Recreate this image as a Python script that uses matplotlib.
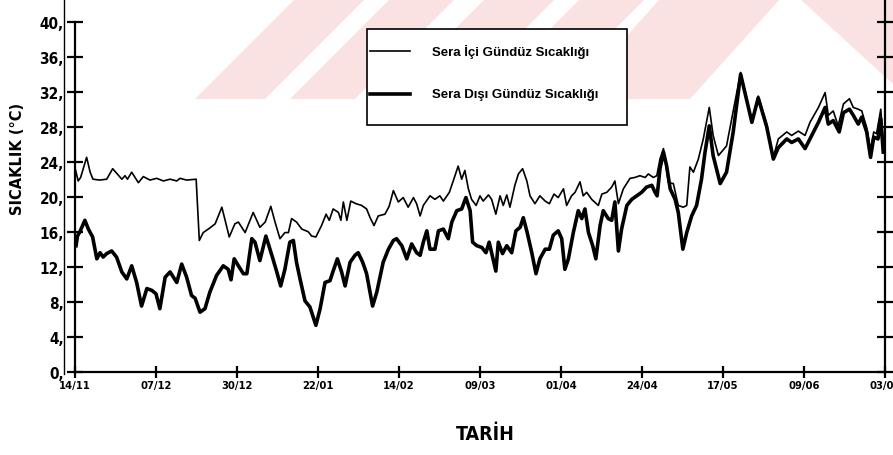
import matplotlib.pyplot as plt
from matplotlib.lines import Line2D
from matplotlib.patches import Polygon, Rectangle

plt.rcParams['font.family'] = ['DejaVu Sans']

# gün (14/11'den itibaren) ve sıcaklık değerleri
gun_ic = [0.0, 0.9, 1.6, 3.3, 4.3, 5.1, 7.0, 9.0, 10.7, 12.0, 13.3, 14.2, 14.9, 16.1, 18.0, 19.4,
          21.3, 23.2, 25.1, 27.0, 28.9, 29.8, 31.7, 34.4, 35.3, 36.4, 38.2, 39.8, 41.7, 43.8, 45.4,
          46.4, 48.3, 50.6, 52.5, 54.0, 55.6, 56.8, 58.2, 59.6, 60.6, 61.5, 62.9, 64.4, 66.2, 67.2,
          68.4, 70.0, 71.3, 72.2, 73.3, 74.8, 75.5, 76.2, 77.2, 78.3, 79.8, 81.4, 82.8, 83.8, 84.9,
          86.1, 88.0, 89.2, 90.4, 91.8, 93.2, 94.6, 96.1, 97.0, 98.0, 98.9, 100.8, 102.2, 103.6,
          104.6, 106.3, 107.4, 108.8, 109.8, 110.7, 111.7, 112.6, 113.9, 115.0, 115.9, 117.4, 118.3,
          119.5, 120.7, 121.6, 122.6, 123.5, 124.9, 125.9, 127.1, 128.3, 129.2, 130.6, 132.0, 133.5,
          134.7, 136.0, 137.2, 138.7, 139.6, 141.0, 142.0, 143.4, 144.3, 145.3, 146.7, 148.6, 149.6,
          151.0, 152.4, 153.3, 154.3, 155.7, 157.6, 159.0, 160.4, 161.9, 162.8, 164.2, 165.2, 166.1,
          167.1, 168.5, 169.9, 171.3, 172.7, 173.7, 174.6, 175.6, 177.0, 178.4, 180.1, 181.2, 182.7,
          185.0, 187.0, 189.0, 192.2, 194.0, 196.4, 198.3, 199.7, 202.1, 203.5, 205.4, 207.3, 208.7,
          211.1, 213.0, 213.9, 215.3, 216.7, 218.2, 219.9, 221.0, 222.4, 223.4, 224.8, 225.9, 226.8,
          227.6, 228.8, 229.5]
sicaklik_ic = [23.3, 21.8, 22.2, 24.5, 22.8, 22.0, 21.9, 22.0, 23.2, 22.6, 22.0, 22.4, 22.0, 22.8,
               21.6, 22.3, 21.9, 22.1, 21.8, 22.0, 21.8, 22.1, 21.9, 22.0, 15.0, 15.9, 16.4, 16.9,
               18.8, 15.4, 16.9, 17.1, 15.9, 18.2, 16.5, 17.1, 18.9, 17.1, 15.2, 15.9, 15.9, 17.5,
               17.1, 16.3, 16.0, 15.5, 15.4, 16.7, 18.0, 17.3, 18.6, 18.2, 17.3, 19.4, 17.3, 19.5,
               19.2, 19.0, 18.6, 17.6, 16.7, 17.8, 18.0, 18.9, 20.7, 19.4, 19.9, 18.8, 19.9, 19.2,
               17.8, 19.0, 20.1, 19.7, 20.1, 19.5, 20.5, 21.8, 23.5, 22.0, 23.0, 20.9, 19.7, 19.0,
               20.1, 19.5, 20.2, 19.7, 18.0, 20.1, 19.0, 20.2, 18.8, 21.3, 22.6, 23.2, 21.8, 20.1,
               19.2, 20.1, 19.5, 19.2, 20.3, 19.9, 20.9, 19.0, 20.1, 20.5, 21.7, 20.1, 20.5, 19.7,
               19.0, 20.3, 20.5, 21.1, 21.8, 19.2, 20.9, 22.1, 22.2, 22.4, 22.2, 22.6, 22.2, 22.4,
               24.3, 25.5, 21.6, 21.5, 19.0, 18.8, 19.0, 23.4, 22.8, 24.3, 26.6, 30.2, 27.0, 24.7,
               25.8, 30.0, 34.2, 28.7, 31.5, 28.3, 24.5, 26.6, 27.4, 27.0, 27.5, 27.0, 28.5, 30.2,
               31.9, 29.3, 29.8, 28.1, 30.6, 31.2, 30.2, 30.0, 29.8, 27.9, 25.3, 27.4, 27.2, 30.0,
               26.2]

gun_dis = [0.3, 0.7, 1.4, 2.8, 3.8, 5.0, 6.2, 7.1, 8.0, 9.0, 10.4, 11.8, 13.3, 14.7, 16.1, 17.5,
           18.9, 20.4, 21.8, 23.0, 24.1, 25.6, 27.0, 28.9, 30.3, 31.7, 33.1, 34.1, 35.5, 36.9, 38.3,
           40.2, 42.1, 43.5, 44.3, 45.2, 46.4, 47.8, 48.8, 50.2, 51.1, 52.5, 54.2, 55.9, 57.3, 58.4,
           59.6, 61.0, 62.0, 62.9, 63.9, 65.3, 66.7, 68.4, 69.6, 71.0, 72.4, 73.3, 74.5, 75.7, 76.7,
           78.1, 79.5, 80.4, 81.7, 82.8, 84.5, 85.7, 87.5, 89.0, 90.4, 91.3, 92.8, 94.2, 95.6, 97.0,
           98.0, 98.9, 99.9, 100.8, 102.2, 103.2, 104.6, 106.0, 107.0, 108.4, 109.8, 111.0, 112.2,
           112.9, 114.1, 115.5, 116.7, 117.6, 118.3, 119.5, 120.2, 121.4, 122.6, 124.0, 125.2, 126.4,
           127.3, 128.4, 129.7, 130.9, 132.0, 133.5, 134.7, 135.8, 137.2, 138.2, 139.1, 140.1, 141.5,
           142.9, 143.9, 144.8, 145.8, 147.0, 147.9, 149.1, 150.0, 151.4, 152.4, 153.3, 154.3, 155.2,
           156.7, 158.1, 159.5, 160.9, 162.3, 163.8, 164.7, 165.3, 166.1, 167.1, 168.0, 169.0, 170.4,
           171.3, 172.6, 173.7, 175.1, 176.5, 177.9, 178.9, 180.1, 181.2, 183.2, 185.0, 186.9, 189.0,
           192.2, 194.0, 196.4, 198.3, 199.7, 202.1, 203.5, 205.4, 207.3, 208.7, 211.1, 213.0, 213.9,
           215.3, 217.0, 218.2, 219.9, 221.0, 222.4, 223.4, 224.8, 225.9, 226.8, 228.0, 228.8, 229.5]
sicaklik_dis = [14.4, 15.5, 16.0, 17.3, 16.3, 15.4, 12.9, 13.6, 13.1, 13.5, 13.8, 13.1, 11.4, 10.6,
                12.1, 10.2, 7.5, 9.5, 9.3, 8.9, 7.2, 10.8, 11.4, 10.2, 12.3, 10.8, 8.7, 8.4, 6.8,
                7.2, 9.1, 11.0, 12.1, 11.7, 10.5, 12.9, 12.1, 11.2, 11.2, 15.2, 14.8, 12.7, 15.5,
                13.3, 11.4, 9.8, 11.7, 14.8, 15.0, 12.5, 10.6, 8.1, 7.4, 5.3, 7.2, 10.2, 10.4, 11.5,
                12.9, 11.4, 9.8, 12.5, 13.3, 13.6, 12.5, 11.2, 7.5, 9.1, 12.5, 14.0, 15.0, 15.2,
                14.4, 12.9, 14.6, 13.6, 13.3, 14.8, 16.1, 14.0, 14.0, 16.1, 16.3, 15.2, 17.1, 18.4,
                18.6, 19.9, 18.4, 14.8, 14.4, 14.2, 13.6, 14.8, 13.6, 11.5, 14.8, 13.5, 14.4, 13.6,
                16.1, 16.5, 17.6, 15.9, 13.6, 11.2, 12.9, 14.0, 14.0, 15.6, 16.1, 15.2, 11.7, 12.9,
                15.9, 18.4, 17.5, 18.6, 15.9, 14.4, 12.9, 16.7, 18.4, 17.5, 17.3, 19.4, 13.8, 16.3,
                19.0, 19.7, 20.1, 20.5, 21.1, 21.3, 20.5, 20.1, 23.2, 25.1, 23.5, 20.9, 19.7, 18.2,
                14.0, 15.9, 17.8, 19.0, 22.0, 25.1, 28.1, 24.7, 21.5, 22.8, 27.4, 34.0, 28.5, 31.3,
                28.0, 24.3, 25.6, 26.6, 26.2, 26.6, 25.5, 26.6, 28.5, 30.2, 28.3, 28.7, 27.4, 29.6,
                30.0, 29.3, 28.3, 29.1, 27.4, 24.5, 26.8, 26.6, 28.9, 25.1]

tarih_gun = [0, 23, 46, 69, 92, 115, 138, 161, 184, 207, 230]
tarih_etiket = ['14/11', '07/12', '30/12', '22/01', '14/02', '09/03',
                '01/04', '24/04', '17/05', '09/06', '03/07']
y_degerleri = [0, 4, 8, 12, 16, 20, 24, 28, 32, 36, 40]
y_etiket = ['0,', '4,', '8,', '12,', '16,', '20,', '24,', '28,', '32,', '36,', '40,']

W, H = 893, 456
fig = plt.figure(figsize=(W / 100, H / 100), dpi=100)


def px(x, y):
    return (x / W, 1 - y / H)


# soluk kırmızı filigran şeritleri
pembe = '#fae2e2'
seritler = [
    [(195, 100), (265, 100), (365, 0), (295, 0)],
    [(290, 100), (355, 100), (455, 0), (390, 0)],
    [(385, 100), (455, 100), (555, 0), (485, 0)],
    [(480, 100), (545, 100), (645, 0), (580, 0)],
    [(570, 100), (690, 100), (780, 0), (660, 0)],
    [(800, 0), (893, 0), (893, 85)],
]
for s in seritler:
    fig.patches.append(Polygon([px(*p) for p in s], closed=True, transform=fig.transFigure,
                               facecolor=pembe, edgecolor='none', zorder=-5))

ax = fig.add_axes([75 / W, 1 - 372.7 / H, 810 / W, 350 / H])
ax.patch.set_alpha(0)

ax.plot(gun_ic, sicaklik_ic, color='black', lw=1.2, label='Sera İçi Gündüz Sıcaklığı')
ax.plot(gun_dis, sicaklik_dis, color='black', lw=2.6, label='Sera Dışı Gündüz Sıcaklığı')

ax.set_xlim(0, 230)
ax.set_ylim(0, 40)
ax.spines['top'].set_visible(False)
for k in ['left', 'right', 'bottom']:
    ax.spines[k].set_linewidth(1.6)

ax.set_xticks(tarih_gun)
ax.set_xticklabels(tarih_etiket, fontsize=8, fontweight='bold', fontstretch='condensed')
ax.set_yticks(y_degerleri)
ax.set_yticklabels(y_etiket, fontsize=11, fontweight='bold', fontstretch='condensed')
ax.tick_params(axis='y', direction='inout', length=12, width=1.6, pad=2, right=True)
ax.tick_params(axis='x', direction='inout', length=8, width=1.6, pad=2)

ax.set_ylabel('SICAKLIK (°C)', fontsize=10.5, fontweight='bold')
ax.yaxis.set_label_coords(-0.062, 0.61)
ax.set_xlabel('TARİH', fontsize=14, fontweight='bold', fontstretch='condensed')
ax.xaxis.set_label_coords(0.506, -0.15)

# sol kenar çizgisi ve sağ eksenin üst uzantısı
fig.add_artist(Line2D([64 / W, 64 / W], [1 - 375 / H, 1.0], color='black', lw=1.0))
fig.add_artist(Line2D([885 / W, 885 / W], [1 - 22.7 / H, 1.0], color='black', lw=1.6))

# açıklama kutusu
fig.add_artist(Rectangle(px(367, 126), 260 / W, 96 / H, transform=fig.transFigure,
                         facecolor='white', edgecolor='black', lw=1.2, zorder=3))
fig.add_artist(Line2D([370 / W, 410 / W], [1 - 52 / H] * 2, color='black', lw=1.2, zorder=4))
fig.add_artist(Line2D([370 / W, 410 / W], [1 - 95 / H] * 2, color='black', lw=2.6, zorder=4))
for yy, metin in [(52, 'Sera İçi Gündüz Sıcaklığı'), (95, 'Sera Dışı Gündüz Sıcaklığı')]:
    fig.text(432 / W, 1 - yy / H, metin, fontsize=9.5, fontweight='bold',
             family=['Liberation Sans', 'DejaVu Sans'], va='center', zorder=5)

fig.savefig('out.png', dpi=100)
